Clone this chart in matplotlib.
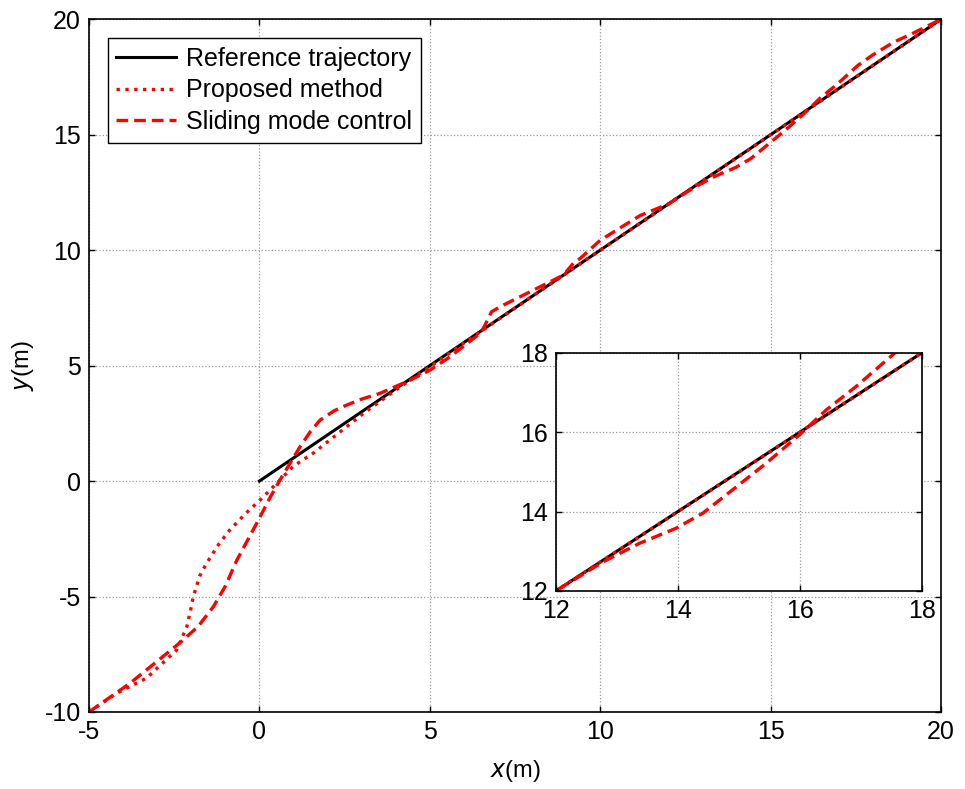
import matplotlib.pyplot as plt
import numpy as np

plt.rcParams['font.family'] = ['Arial', 'Liberation Sans', 'DejaVu Sans']
plt.rcParams['axes.unicode_minus'] = False

# reference trajectory
ref_x = [0, 20]
ref_y = [0, 20]

# proposed method
prop_x = [-5, -4.2, -3.31, -2.43, -2.13, -2.02, -1.94, -1.75, -1.55, -1.2, -0.87, -0.4, 0.02,
          0.6, 1.0, 1.57, 2.3, 3.05, 4.13, 5.0, 6.0, 8.0, 12.0, 16.0, 20.0]
prop_y = [-10, -9.2, -8.53, -7.32, -6.31, -5.6, -5.01, -4.1, -3.56, -2.75, -2.12, -1.4, -0.82,
          0.04, 0.65, 1.2, 2.05, 2.93, 4.08, 4.95, 5.98, 8.0, 12.0, 16.0, 20.0]

# sliding mode control
smc_x = [-5, -3.8, -2.33, -1.8, -1.35, -1.0, -0.66, -0.08, 0.3, 0.6, 1.19, 1.5, 1.78, 2.2, 2.56,
         3.0, 3.54, 4.42, 5.0, 5.59, 6.47, 6.6, 6.81, 7.06, 8.04, 8.92, 9.22, 9.41, 10.0, 11.17,
         12.0, 12.77, 13.37, 13.97, 14.41, 14.9, 15.45, 16.0, 16.44, 16.93, 17.56, 17.97, 18.6,
         19.13, 20.0]
smc_y = [-10, -8.76, -7.0, -6.3, -5.44, -4.55, -3.42, -1.83, -0.75, 0.04, 1.48, 2.15, 2.64,
         3.05, 3.29, 3.55, 3.8, 4.37, 4.8, 5.38, 6.39, 6.7, 7.33, 7.55, 8.27, 8.92, 9.45, 9.64,
         10.43, 11.5, 12.0, 12.73, 13.2, 13.58, 13.96, 14.55, 15.22, 15.94, 16.57, 17.16, 18.0,
         18.43, 19.0, 19.36, 20.0]

fig = plt.figure(figsize=(9.65, 7.89), dpi=100)
ax = fig.add_axes([0.0922, 0.0976, 0.883, 0.878])


def draw(a):
    a.plot(ref_x, ref_y, 'k-', lw=2.2, label='Reference trajectory')
    a.plot(prop_x, prop_y, color='red', ls=':', lw=2.4, label='Proposed method')
    a.plot(smc_x, smc_y, color='red', ls='--', lw=2.4, dashes=(3.5, 1.8), label='Sliding mode control')
    a.grid(True, color='#999999', ls=':', lw=0.9)
    a.tick_params(direction='in', top=True, right=True, labelsize=18, length=4, width=1, pad=6)
    for s in a.spines.values():
        s.set_linewidth(1.2)


draw(ax)
ax.set_xlim(-5, 20)
ax.set_ylim(-10, 20)
ax.set_xticks(np.arange(-5, 21, 5))
ax.set_yticks(np.arange(-10, 21, 5))
ax.set_xlabel('$\\it{x}$(m)', fontsize=17, labelpad=10)
ax.set_ylabel('$\\it{y}$(m)', fontsize=17, labelpad=6)
leg = ax.legend(loc='upper left', fontsize=18, fancybox=False, edgecolor='black',
                handlelength=2.4, borderaxespad=0.75, labelspacing=0.3, borderpad=0.35,
                handletextpad=0.4, framealpha=1)
leg.get_frame().set_linewidth(1.0)

axin = fig.add_axes([0.576, 0.251, 0.379, 0.3016])
draw(axin)
axin.set_xlim(12, 18)
axin.set_ylim(12, 18)
axin.set_xticks([12, 14, 16, 18])
axin.set_yticks([12, 14, 16, 18])

fig.savefig('out.png', dpi=100)
